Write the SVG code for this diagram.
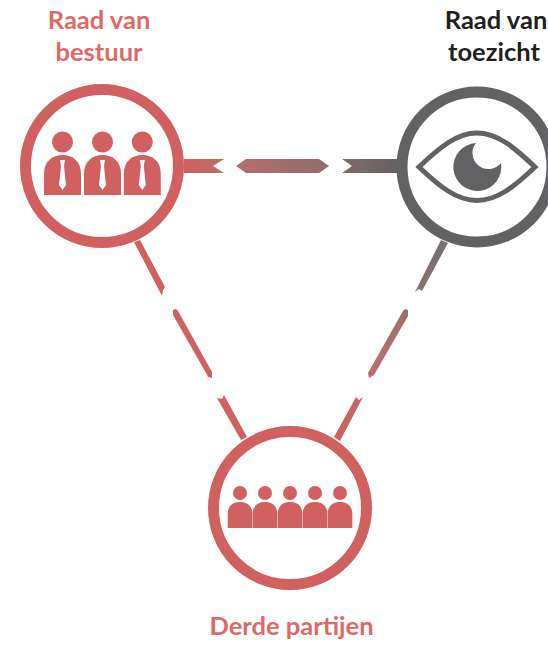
<svg xmlns="http://www.w3.org/2000/svg" width="548" height="645" viewBox="0 0 548 645">
<style>
.t{font-family:"Lato","Liberation Sans",sans-serif;font-weight:700;font-size:25.5px;text-anchor:middle}
.red{fill:#d16060}
.lab{fill:#dc6b68}
.dark{fill:#231f20}
.gr{fill:#626163}
.ring{fill:#fff;stroke-width:11}
</style>
<defs>
<linearGradient id="h" gradientUnits="userSpaceOnUse" x1="184" y1="0" x2="397" y2="0"><stop offset="0" stop-color="#d16060"/><stop offset="0.25" stop-color="#b4706c"/><stop offset="0.7" stop-color="#8c6c6a"/><stop offset="1" stop-color="#626163"/></linearGradient>
<linearGradient id="d" gradientUnits="userSpaceOnUse" x1="335" y1="440" x2="445" y2="240"><stop offset="0" stop-color="#d16060"/><stop offset="0.4" stop-color="#b4706c"/><stop offset="1" stop-color="#737071"/></linearGradient>
<g id="person"><circle cx="0" cy="-53" r="10.500"/><path d="M-18.500 0V-21C-18.500 -34 -10 -40 0 -40S18.500 -34 18.500 -21V0Z"/><path fill="#fff" d="M-2.500 -35H2.500L1.500 -29L3.500 -10L0 -5L-3.500 -10L-1.500 -29Z"/></g>
<g id="p2"><circle cx="0" cy="-35" r="7"/><path d="M-12.300 0V-14C-12.300 -22 -7 -26 0 -26S12.300 -22 12.300 -14V0Z"/></g>
</defs>
<g id="connectors">
<path fill="url(#h)" d="M184 159H224L213 166L224 173H184Z"/>
<path fill="url(#h)" d="M246 159H319L329 166L319 173H246L236 166Z"/>
<path fill="url(#h)" d="M342 159H397V173H342L352 166Z"/>
<path fill="#d16060" d="M134 242L140 240L165 287L163 290L162 296Z"/>
<path fill="#d16060" d="M173 315L173 310L176 309L178 311L212 372L212 378L208 377L206 373Z"/>
<path fill="#d16060" d="M217 398L222 399L224 395L247 437L241 440Z"/>
<path fill="url(#d)" d="M441 240L448 243L422 291L419 289L415 292Z"/>
<path fill="url(#d)" d="M403 311L405 309L408 310L408 316L374 375L369 378L368 373Z"/>
<path fill="url(#d)" d="M356 397L359 400L363 397L340 441L334 437Z"/>
</g>
<g id="raad-van-bestuur">
<circle class="ring" cx="102" cy="166" r="76.500" stroke="#d16060"/>
<g class="red"><use href="#person" x="62.500" y="195"/><use href="#person" x="102.500" y="195"/><use href="#person" x="142.300" y="195"/></g>
<text class="t lab" x="99" y="29">Raad van</text>
<text class="t lab" x="99" y="61">bestuur</text>
</g>
<g id="raad-van-toezicht">
<circle class="ring" cx="477" cy="167" r="75" stroke="#626163"/>
<path d="M419 167C440 147 457 133 477 133S514 147 535 167C514 187 497 200.500 477 200.500S440 187 419 167Z" fill="none" stroke="#626163" stroke-width="5"/>
<path class="gr" d="M476 143A24 24 0 1 0 501 163A15 15 0 0 1 476 143Z"/>
<text class="t dark" x="496" y="29">Raad van</text>
<text class="t dark" x="494" y="61">toezicht</text>
</g>
<g id="derde-partijen">
<circle class="ring" cx="290" cy="508" r="76.500" stroke="#d16060"/>
<g class="red"><use href="#p2" x="240" y="528"/><use href="#p2" x="265" y="528"/><use href="#p2" x="290" y="528"/><use href="#p2" x="315" y="528"/><use href="#p2" x="340" y="528"/></g>
<text class="t lab" x="291.500" y="635">Derde partijen</text>
</g>
</svg>
